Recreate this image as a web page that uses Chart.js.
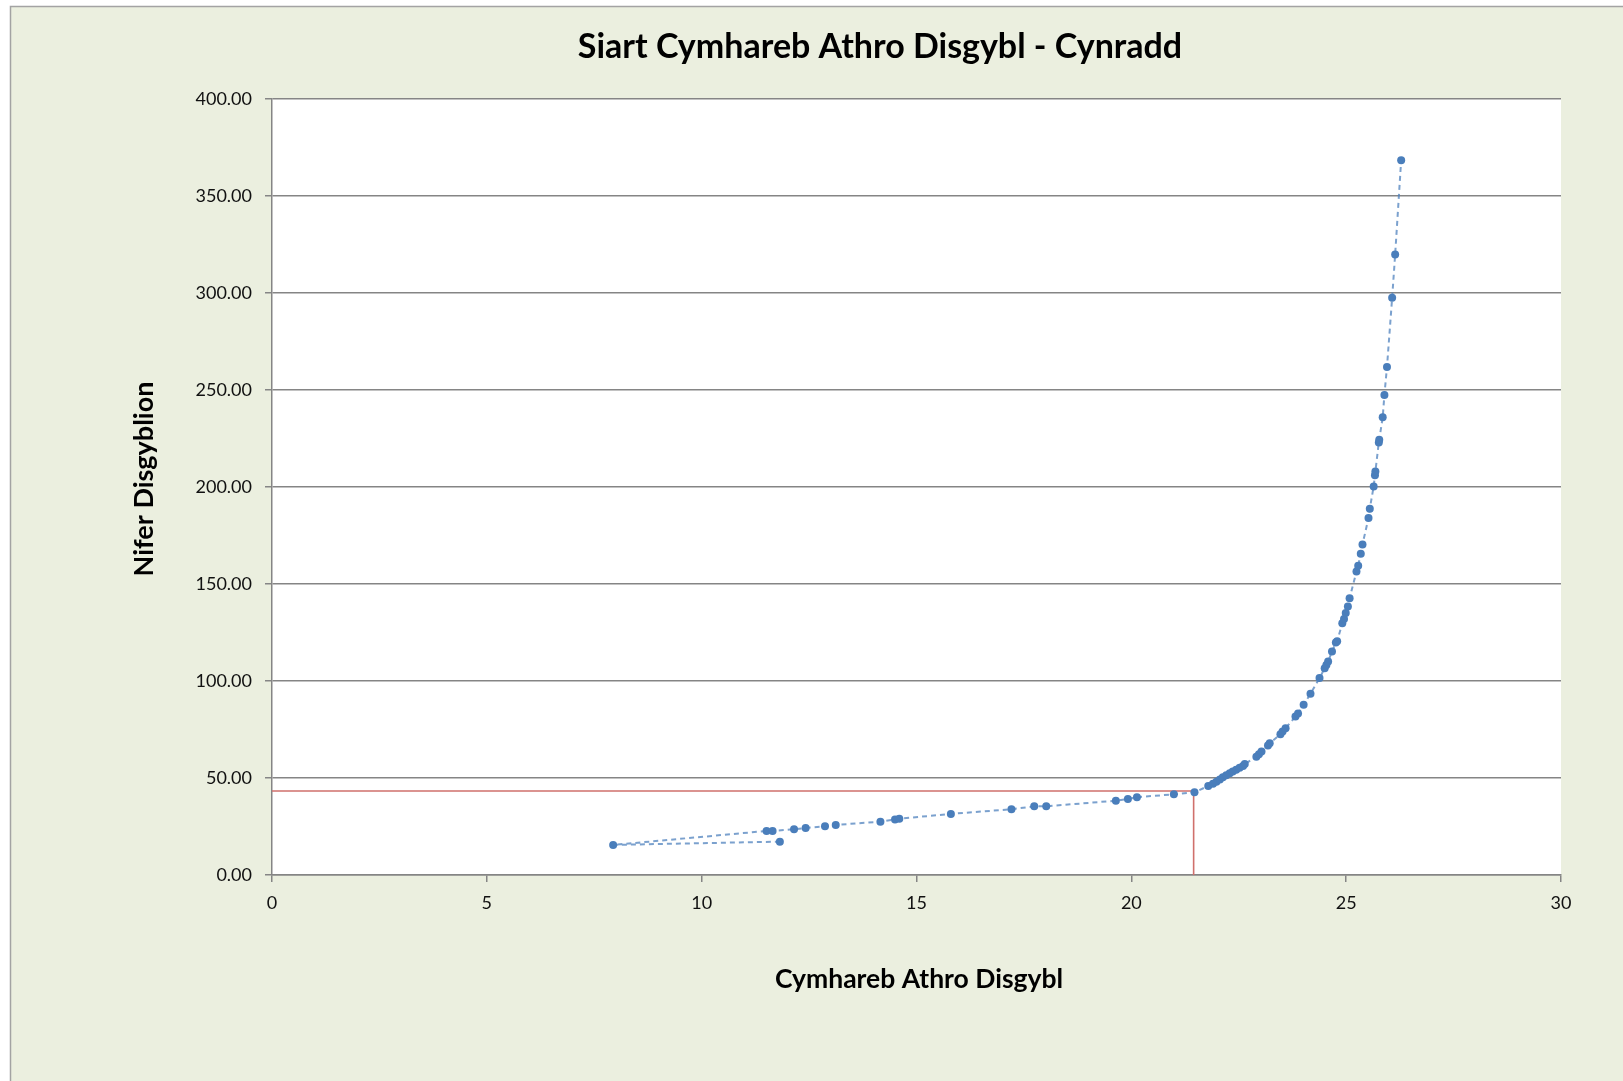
<!DOCTYPE html>
<html>
<head>
<meta charset="utf-8">
<title>Siart Cymhareb Athro Disgybl - Cynradd</title>
<script src="https://cdn.jsdelivr.net/npm/chart.js@4.4.0/dist/chart.umd.min.js"></script>
<style>
  html, body { margin: 0; padding: 0; background: #ffffff; overflow: hidden; }
  canvas { display: block; }
</style>
</head>
<body>
<canvas id="ratio-chart" width="1623" height="1081"></canvas>
<script>
// pupil/teacher ratio (x) against number of pupils (y)
var ratioValues = [
  11.82, 7.94, 11.51, 11.65, 12.15, 12.42, 12.87, 13.12, 14.16, 14.50,
  14.60, 15.80, 17.21, 17.74, 18.02, 19.64, 19.92, 20.13, 20.99, 21.47,
  21.79, 21.90, 21.98, 22.06, 22.13, 22.21, 22.29, 22.36, 22.44, 22.52,
  22.60, 22.64, 22.91, 22.97, 23.03, 23.18, 23.22, 23.47, 23.52, 23.59,
  23.82, 23.88, 24.01, 24.17, 24.38, 24.50, 24.54, 24.58, 24.67, 24.76,
  24.79, 24.91, 24.95, 24.99, 25.04, 25.08, 25.24, 25.28, 25.34, 25.38,
  25.52, 25.55, 25.64, 25.67, 25.68, 25.76, 25.77, 25.85, 25.89, 25.95,
  26.07, 26.14, 26.28
];
var pupilValues = [
  17.2, 15.5, 22.7, 22.7, 23.6, 24.2, 25.1, 25.8, 27.5, 28.6,
  29.0, 31.5, 33.9, 35.4, 35.4, 38.3, 39.2, 40.1, 41.6, 42.6,
  45.9, 47.0, 48.1, 49.2, 50.4, 51.4, 52.4, 53.3, 54.2, 55.3,
  56.2, 57.2, 61.0, 62.3, 63.6, 66.8, 67.9, 72.5, 74.0, 75.7,
  81.7, 83.2, 87.7, 93.4, 101.5, 106.6, 108.3, 110.0, 115.2, 119.8,
  120.5, 129.8, 132.0, 135.0, 138.4, 142.7, 156.4, 159.4, 165.6, 170.4,
  184.0, 188.8, 200.3, 206.0, 208.0, 223.0, 224.4, 235.9, 247.4, 261.9,
  297.5, 319.8, 368.4
];

// red marker lines (school of interest)
var refLineX = [0, 21.45, 21.45];
var refLineY = [43.3, 43.3, 0];

var yTicks = [0, 50, 100, 150, 200, 250, 300, 350, 400];
var xTicks = [0, 5, 10, 15, 20, 25, 30];

var chartTitle = "Siart Cymhareb Athro Disgybl - Cynradd";
var xTitle = "Cymhareb Athro Disgybl";
var yTitle = "Nifer Disgyblion";

function toPoints(xs, ys) {
  var pts = [];
  for (var i = 0; i < xs.length; i++) {
    pts.push({ x: xs[i], y: ys[i] });
  }
  return pts;
}

// frame background, plot background and the titles
var excelLook = {
  id: "excelLook",
  beforeDraw: function (chart) {
    var ctx = chart.ctx;
    var area = chart.chartArea;
    ctx.save();
    ctx.fillStyle = "#ebefdf";
    ctx.fillRect(10, 6, chart.width - 10, chart.height - 6);
    ctx.strokeStyle = "#a3a3a3";
    ctx.lineWidth = 1.5;
    ctx.beginPath();
    ctx.moveTo(10.5, chart.height);
    ctx.lineTo(10.5, 6.5);
    ctx.lineTo(chart.width, 6.5);
    ctx.stroke();
    ctx.fillStyle = "#ffffff";
    ctx.fillRect(area.left, area.top, area.right - area.left, area.bottom - area.top);
    ctx.restore();
  },
  afterDraw: function (chart) {
    var ctx = chart.ctx;
    ctx.save();
    ctx.fillStyle = "#000000";
    ctx.textAlign = "center";
    ctx.textBaseline = "middle";
    ctx.font = "bold 34px Lato";
    ctx.fillText(chartTitle, 880, 47);
    ctx.font = "bold 26.5px Lato";
    ctx.fillText(xTitle, 919, 979);
    ctx.font = "bold 27px Lato";
    ctx.translate(144, 479);
    ctx.rotate(-Math.PI / 2);
    ctx.fillText(yTitle, 0, 0);
    ctx.restore();
  }
};

var ctx = document.getElementById("ratio-chart").getContext("2d");

var myChart = new Chart(ctx, {
  type: "scatter",
  data: {
    datasets: [{
      label: "Ysgolion",
      data: toPoints(ratioValues, pupilValues),
      showLine: true,
      borderColor: "rgba(79, 129, 189, 0.75)",
      borderWidth: 2,
      borderDash: [5, 4],
      backgroundColor: "#4a7ebb",
      pointBackgroundColor: "#4a7ebb",
      pointBorderColor: "#4a7ebb",
      pointRadius: 4,
      pointBorderWidth: 0,
      order: 1
    }, {
      label: "Ysgol",
      data: toPoints(refLineX, refLineY),
      showLine: true,
      borderColor: "#d0706c",
      borderWidth: 1.6,
      pointRadius: 0,
      order: 2
    }]
  },
  options: {
    responsive: false,
    animation: false,
    layout: {
      padding: { left: 10, top: 99, right: 62, bottom: 0 }
    },
    plugins: {
      legend: { display: false },
      tooltip: { enabled: false }
    },
    scales: {
      x: {
        type: "linear",
        min: 0,
        max: 30,
        afterFit: function (scale) { scale.height = 206; },
        afterBuildTicks: function (scale) {
          scale.ticks = xTicks.map(function (v) { return { value: v }; });
        },
        grid: {
          drawOnChartArea: false,
          drawTicks: true,
          tickLength: 7,
          color: "#858585",
          lineWidth: 1.5
        },
        border: { color: "#858585", width: 1.5 },
        ticks: {
          padding: 10,
          color: "#111111",
          font: { family: "Lato", size: 18 }
        }
      },
      y: {
        type: "linear",
        min: 0,
        max: 400,
        afterFit: function (scale) { scale.width = 262; },
        afterBuildTicks: function (scale) {
          scale.ticks = yTicks.map(function (v) { return { value: v }; });
        },
        grid: {
          drawOnChartArea: true,
          drawTicks: true,
          tickLength: 7,
          color: "#858585",
          lineWidth: 1.5
        },
        border: { color: "#858585", width: 1.5 },
        ticks: {
          padding: 13,
          color: "#111111",
          font: { family: "Lato", size: 18 },
          callback: function (value) { return Number(value).toFixed(2); }
        }
      }
    }
  },
  plugins: [excelLook]
});
</script>
</body>
</html>
